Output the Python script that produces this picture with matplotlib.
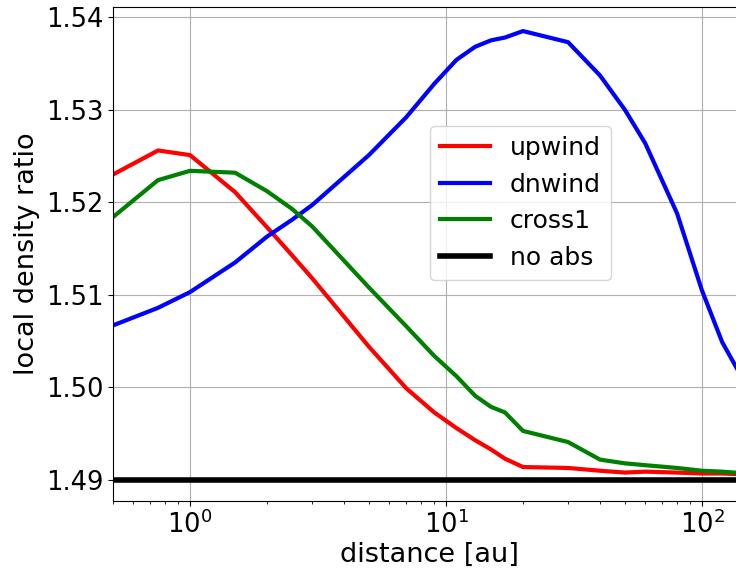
import matplotlib
matplotlib.use('Agg')
import matplotlib.pyplot as plt

# distances in au
dist = [0.5, 0.75, 1, 1.5, 2, 2.5, 3, 5, 7, 9, 11, 13, 15, 17, 20, 30, 40, 50, 60, 80, 100, 120, 150]

upwind = [1.5230, 1.5256, 1.5251, 1.5211, 1.5173, 1.5143, 1.5118, 1.5044, 1.4999, 1.4973,
          1.4956, 1.4943, 1.4933, 1.4923, 1.4914, 1.4913, 1.4910, 1.4908, 1.4909, 1.4908,
          1.4907, 1.4907, 1.4906]
dnwind = [1.5067, 1.5086, 1.5103, 1.5135, 1.5163, 1.5181, 1.5197, 1.5251, 1.5292, 1.5328,
          1.5354, 1.5368, 1.5375, 1.5378, 1.5385, 1.5373, 1.5337, 1.5300, 1.5264, 1.5188,
          1.5105, 1.5049, 1.5001]
cross1 = [1.5184, 1.5224, 1.5234, 1.5232, 1.5212, 1.5193, 1.5174, 1.5108, 1.5066, 1.5034,
          1.5012, 1.4991, 1.4979, 1.4973, 1.4953, 1.4941, 1.4922, 1.4918, 1.4916, 1.4913,
          1.4910, 1.4909, 1.4907]
noabs = [1.49] * len(dist)

fig = plt.figure(figsize=(7.36, 5.69), dpi=100)
# the axes run a little past the right edge of the picture, as in the original
ax = fig.add_axes([0.1535, 0.1195, 0.8614, 0.8682])

ax.plot(dist, upwind, color='red', lw=3, label='upwind')
ax.plot(dist, dnwind, color='blue', lw=3, label='dnwind')
ax.plot(dist, cross1, color='green', lw=3, label='cross1')
ax.plot(dist, noabs, color='black', lw=4, label='no abs')

ax.set_xscale('log')
ax.set_xlim(0.5, 150)
ax.set_ylim(1.48773, 1.5411)
ax.set_yticks([1.49, 1.50, 1.51, 1.52, 1.53, 1.54])
ax.set_yticklabels(['1.49', '1.50', '1.51', '1.52', '1.53', '1.54'])
ax.tick_params(labelsize=18.5)
ax.grid(True, which='major', color='#b0b0b0', lw=0.8)

ax.set_xlabel('distance [au]', fontsize=19.5, labelpad=2)
ax.set_ylabel('local density ratio', fontsize=19.5)
ax.legend(fontsize=18, loc='upper left', bbox_to_anchor=(0.5, 0.759), borderaxespad=0)

fig.savefig('out.png', dpi=100)
